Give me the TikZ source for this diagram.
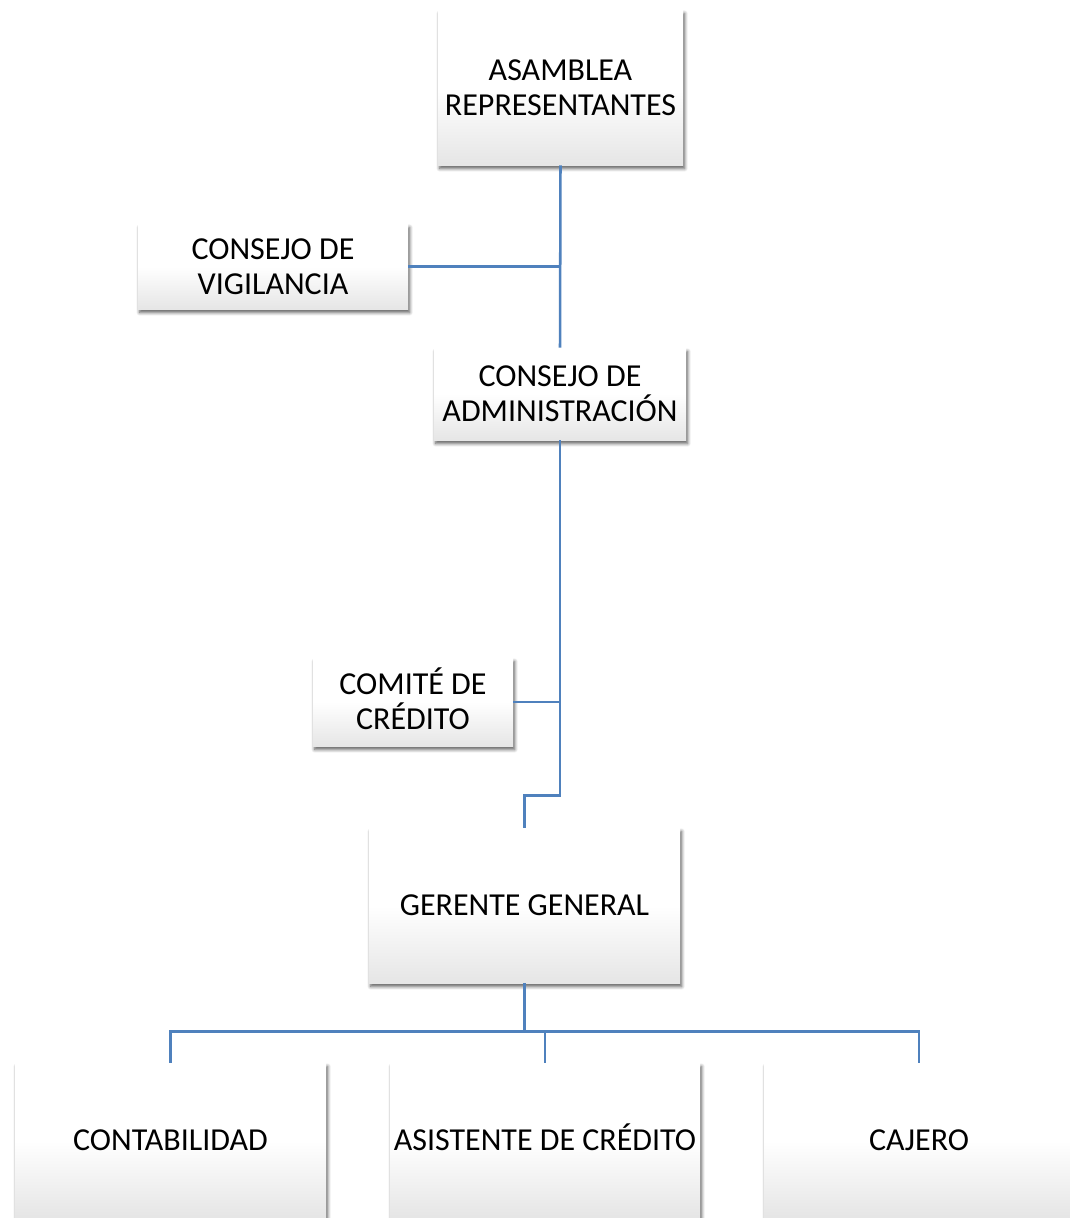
\documentclass[tikz,border=0pt]{standalone}
\usepackage{fontspec}
\setmainfont{Carlito}
\usetikzlibrary{calc,shadows.blur}
\definecolor{conn}{HTML}{4F81BD}
\tikzset{
  orgbox/.style 2 args={rectangle, draw=none, align=center,
    minimum width=#1*0.75pt, minimum height=#2*0.75pt, inner sep=0pt,
    top color=white, bottom color=black!10, middle color=white,
    blur shadow={shadow xshift=1.2pt, shadow yshift=-2.6pt, shadow blur steps=6, shadow blur radius=2.5pt, shadow opacity=65},
    font=\fontsize{24}{26.25}\selectfont},
  oneline/.style={text height=15.5pt, text depth=0pt},
  link/.style={draw=conn, line width=1.9pt}
}
\begin{document}
\begin{tikzpicture}[x=0.75pt,y=-0.75pt]
\useasboundingbox (0,0) rectangle (1070,1218);
\node[orgbox={245}{155}] (asam) at (560.5,87.5) {ASAMBLEA\\REPRESENTANTES};
\node[orgbox={270}{85}] (vig) at (273,266.5) {CONSEJO DE\\VIGILANCIA};
\node[orgbox={252}{92}] (adm) at (560,394) {CONSEJO DE\\ADMINISTRACIÓN};
\node[orgbox={200}{88}] (com) at (413,702) {COMIT\smash{É} DE\\CRÉDITO};
\node[orgbox={311}{155},oneline] (ger) at (524.5,905.5) {GERENTE GENERAL};
\node[orgbox={311}{155},oneline] (cont) at (170.5,1140.5) {CONTABILIDAD};
\node[orgbox={310}{155},oneline] (asis) at (545,1140.5) {ASISTENTE DE CRÉDITO};
\node[orgbox={310}{155},oneline] (caj) at (919,1140.5) {CAJERO};
\coordinate (bus) at ($(ger.south)+(0,48)$);
\coordinate (jog) at ($(ger.north)+(0,-32)$);
\draw[link] (asam.south) -- (adm.north);
\draw[link] (vig.east) -- (vig.east -| asam.south);
\draw[link] (adm.south) |- (jog) -- (ger.north);
\draw[link] (com.east) -- (com.east -| adm.south);
\draw[link] (ger.south) -- (bus);
\draw[link] (cont.north) |- (bus) -| (caj.north);
\draw[link] (asis.north) -- (asis.north |- bus);
\end{tikzpicture}
\end{document}
